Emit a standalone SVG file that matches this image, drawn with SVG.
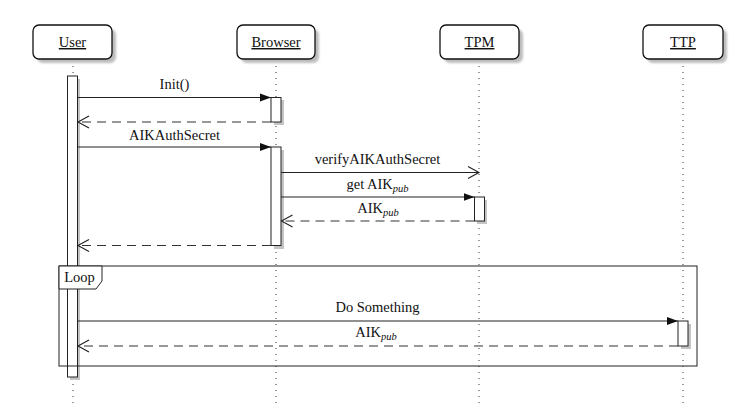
<svg xmlns="http://www.w3.org/2000/svg" width="750" height="412" viewBox="0 0 750 412">
<defs>
<style>
text{font-size:14.5px;fill:#111;text-anchor:middle}
.lbl{text-decoration:underline}
.sub{font-style:italic;font-size:10.5px}
.box{fill:#fff;stroke:#111;stroke-width:1.3}
.shadow{fill:#bdbdbd;filter:url(#blur)}
.life{stroke:#333;stroke-width:1;stroke-dasharray:1 5;fill:none}
.act{fill:#fff;stroke:#222;stroke-width:1}
.ashadow{fill:#c4c4c4}
.msg{stroke:#222;stroke-width:1.1;fill:none}
.ret{stroke:#333;stroke-width:1.1;fill:none;stroke-dasharray:9 6}
.frame{fill:none;stroke:#222;stroke-width:1}
</style>
<filter id="blur" x="-20%" y="-20%" width="140%" height="140%"><feGaussianBlur stdDeviation="1"/></filter>
<marker id="filled" markerWidth="12" markerHeight="10" refX="11" refY="5" orient="auto" markerUnits="userSpaceOnUse">
<path d="M0,1 L11,5 L0,9 Z" fill="#111"/>
</marker>
<marker id="open" markerWidth="14" markerHeight="14" refX="12" refY="7" orient="auto" markerUnits="userSpaceOnUse">
<path d="M1,1 L12,7 L1,13" fill="none" stroke="#222" stroke-width="1.1"/>
</marker>
</defs>
<rect width="750" height="412" fill="#fff"/>
<g font-family="Liberation Serif, Times New Roman, DejaVu Serif, serif">

<g id="node-user">
<line class="life" x1="73" y1="60" x2="73" y2="406"/>
<rect class="shadow" x="37" y="29" width="79" height="34" rx="6"/>
<rect class="box" x="33" y="25" width="79" height="34" rx="6"/>
<text class="lbl" x="72.5" y="47">User</text>
<rect class="ashadow" x="70" y="79" width="10" height="301"/>
<rect class="act" x="67.5" y="76" width="10" height="301"/>
</g>

<g id="node-browser">
<line class="life" x1="276" y1="60" x2="276" y2="406"/>
<rect class="shadow" x="241" y="29" width="78" height="34" rx="6"/>
<rect class="box" x="237" y="25" width="78" height="34" rx="6"/>
<text class="lbl" x="276" y="47">Browser</text>
<rect class="ashadow" x="274" y="100" width="10" height="25"/>
<rect class="act" x="271" y="97.5" width="10" height="24.5"/>
<rect class="ashadow" x="274" y="150" width="10" height="99"/>
<rect class="act" x="271" y="147" width="10" height="98.5"/>
</g>

<g id="node-tpm">
<line class="life" x1="479" y1="60" x2="479" y2="406"/>
<rect class="shadow" x="444" y="29" width="79" height="34" rx="6"/>
<rect class="box" x="440" y="25" width="79" height="34" rx="6"/>
<text class="lbl" x="479.5" y="47">TPM</text>
<rect class="ashadow" x="477" y="200" width="10" height="24"/>
<rect class="act" x="474.5" y="197" width="10" height="24"/>
</g>

<g id="node-ttp">
<line class="life" x1="683" y1="60" x2="683" y2="406"/>
<rect class="shadow" x="647" y="29" width="80" height="34" rx="6"/>
<rect class="box" x="643" y="25" width="80" height="34" rx="6"/>
<text class="lbl" x="683" y="47">TTP</text>
<rect class="ashadow" x="681" y="324" width="10" height="25"/>
<rect class="act" x="678" y="321" width="10" height="25"/>
</g>

<g id="connectors">
<line class="msg" x1="77.5" y1="97.5" x2="271" y2="97.5" marker-end="url(#filled)"/>
<text x="174.5" y="89">Init()</text>
<line class="ret" x1="271" y1="122" x2="78" y2="122" marker-end="url(#open)"/>
<line class="msg" x1="77.5" y1="147" x2="271" y2="147" marker-end="url(#filled)"/>
<text x="174.5" y="140">AIKAuthSecret</text>
<line class="msg" x1="281" y1="172.5" x2="479" y2="172.5" marker-end="url(#open)"/>
<text x="377.5" y="164">verifyAIKAuthSecret</text>
<line class="msg" x1="281" y1="197" x2="474.5" y2="197" marker-end="url(#filled)"/>
<text x="377.5" y="189">get AIK<tspan class="sub" dy="3">pub</tspan></text>
<line class="ret" x1="474.5" y1="221" x2="281.5" y2="221" marker-end="url(#open)"/>
<text x="378" y="213">AIK<tspan class="sub" dy="3">pub</tspan></text>
<line class="ret" x1="271" y1="245.5" x2="78" y2="245.5" marker-end="url(#open)"/>
<line class="msg" x1="77.5" y1="321" x2="678" y2="321" marker-end="url(#filled)"/>
<text x="377.5" y="312">Do Something</text>
<line class="ret" x1="678" y1="346" x2="78" y2="346" marker-end="url(#open)"/>
<text x="376" y="337">AIK<tspan class="sub" dy="3">pub</tspan></text>
</g>

<g id="loop">
<rect class="frame" x="59" y="266" width="638" height="100"/>
<path d="M59,266 L102,266 L102,281 L96,289 L59,289 Z" fill="#fff" stroke="#222" stroke-width="1"/>
<text x="79.5" y="282">Loop</text>
</g>
</g>
</svg>
